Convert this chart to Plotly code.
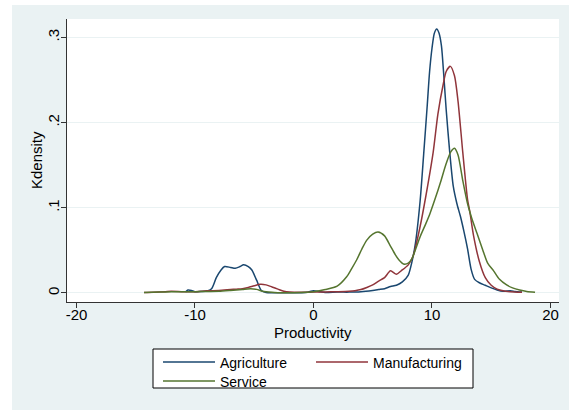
import plotly.graph_objects as go

# Kernel density of log productivity by sector
agri_x = [-10.8, -10.6, -10.3, -10.0, -9.5, -9.0, -8.6, -8.2, -7.8, -7.5, -7.0, -6.6,
          -6.2, -5.9, -5.5, -5.2, -4.8, -4.4, -4.0, -3.0, -2.0, -1.0, -0.5, 0.0, 0.5,
          1.0, 2.0, 3.0, 4.0, 5.0, 5.5, 6.0, 6.5, 7.0, 7.5, 8.0, 8.3, 8.6, 9.0, 9.3,
          9.6, 9.8, 10.0, 10.2, 10.4, 10.6, 10.8, 11.0, 11.2, 11.5, 11.8, 12.1, 12.4,
          12.7, 13.0, 13.3, 13.6, 14.0, 14.5, 15.0, 15.5, 16.0, 16.6, 17.0, 17.6]
agri_y = [0.001, 0.0035, 0.003, 0.0015, 0.0018, 0.0023, 0.005, 0.018, 0.027, 0.031,
          0.030, 0.029, 0.031, 0.033, 0.031, 0.027, 0.015, 0.003, 0.0005, 0.0003,
          0.0003, 0.0003, 0.0008, 0.0027, 0.0015, 0.0005, 0.001, 0.001, 0.0015, 0.003,
          0.004, 0.005, 0.0075, 0.009, 0.013, 0.021, 0.036, 0.058, 0.108, 0.163, 0.22,
          0.26, 0.287, 0.305, 0.31, 0.305, 0.29, 0.255, 0.215, 0.165, 0.125, 0.105,
          0.09, 0.072, 0.052, 0.028, 0.016, 0.012, 0.009, 0.006, 0.0035, 0.002, 0.0025,
          0.0018, 0.001]

manu_x = [-14.3, -13.5, -12.5, -12.0, -11.0, -10.0, -9.0, -8.0, -7.0, -6.5, -6.0, -5.5,
          -5.0, -4.5, -4.0, -3.5, -3.0, -2.5, -2.0, -1.0, 0.0, 1.0, 2.0, 3.0, 3.5, 4.0,
          4.5, 5.0, 5.5, 6.0, 6.5, 7.0, 7.4, 8.0, 8.4, 9.0, 9.5, 10.1, 10.5, 10.95,
          11.2, 11.55, 11.9, 12.2, 12.6, 13.0, 13.2, 13.5, 14.0, 14.5, 15.0, 15.5,
          16.0, 16.6, 17.6]
manu_y = [0.0005, 0.0008, 0.0015, 0.002, 0.0015, 0.0015, 0.0025, 0.003, 0.004, 0.0045,
          0.005, 0.0065, 0.0085, 0.0102, 0.0095, 0.007, 0.0045, 0.002, 0.001, 0.0007,
          0.001, 0.0012, 0.0015, 0.002, 0.0027, 0.004, 0.0065, 0.0095, 0.014, 0.018,
          0.026, 0.022, 0.026, 0.033, 0.043, 0.078, 0.115, 0.165, 0.21, 0.245, 0.26,
          0.266, 0.255, 0.225, 0.165, 0.11, 0.095, 0.068, 0.037, 0.018, 0.009, 0.0045,
          0.0025, 0.0015, 0.0008]

serv_x = [-14.3, -13.0, -12.0, -11.0, -10.0, -9.0, -8.0, -7.0, -6.0, -5.3, -4.8, -4.3,
          -3.5, -3.0, -2.0, -1.0, 0.0, 1.0, 2.0, 2.8, 3.2, 3.65, 4.1, 4.5, 5.0, 5.45,
          6.0, 6.46, 6.9, 7.2, 7.6, 8.0, 8.3, 9.0, 9.5, 9.85, 10.3, 10.7, 11.2, 11.6,
          11.9, 12.2, 12.6, 13.0, 13.35, 13.8, 14.3, 14.7, 15.2, 15.7, 16.3, 16.8,
          17.4, 18.0, 18.7]
serv_y = [0.0005, 0.001, 0.0013, 0.0013, 0.0015, 0.0018, 0.002, 0.003, 0.0042, 0.005,
          0.0042, 0.002, 0.0007, 0.0004, 0.0004, 0.0006, 0.0015, 0.004, 0.008, 0.019,
          0.028, 0.039, 0.052, 0.062, 0.069, 0.0715, 0.067, 0.056, 0.045, 0.039, 0.034,
          0.035, 0.040, 0.066, 0.082, 0.094, 0.112, 0.129, 0.152, 0.166, 0.170, 0.162,
          0.132, 0.105, 0.088, 0.07, 0.05, 0.035, 0.026, 0.016, 0.0094, 0.006, 0.0035,
          0.0018, 0.0008]

x_ticks = [-20, -10, 0, 10, 20]
x_tick_text = ["-20", "-10", "0", "10", "20"]
y_ticks = [0, 0.1, 0.2, 0.3]
y_tick_text = ["0", ".1", ".2", ".3"]

NAVY = "#1A476F"
MAROON = "#90353B"
FOREST = "#55752F"
BG = "#EAF2F3"
FONT = "Liberation Sans, Arial, sans-serif"

fig = go.Figure()
fig.add_trace(go.Scatter(x=agri_x, y=agri_y, mode="lines", name="Agriculture",
                         line=dict(color=NAVY, width=1.5, shape="spline", smoothing=0.7),
                         legend="legend"))
fig.add_trace(go.Scatter(x=manu_x, y=manu_y, mode="lines", name="Manufacturing",
                         line=dict(color=MAROON, width=1.5, shape="spline", smoothing=0.7),
                         legend="legend"))
fig.add_trace(go.Scatter(x=serv_x, y=serv_y, mode="lines", name="Service",
                         line=dict(color=FOREST, width=1.5, shape="spline", smoothing=0.7),
                         legend="legend2"))

W, H = 569, 410
L, R, T, B = 67, 10, 19, 108
pw, ph = W - L - R, H - T - B


def px_x(p):
    return (p - L) / pw


def px_y(p):
    return (H - B - p) / ph


legend_common = dict(
    orientation="h", xanchor="left", yanchor="middle",
    bgcolor="rgba(0,0,0,0)", borderwidth=0,
    font=dict(family=FONT, size=14, color="#000"),
    itemwidth=52, entrywidth=86, itemclick=False, itemdoubleclick=False,
)

fig.update_layout(
    width=W, height=H,
    margin=dict(l=L, r=R, t=T, b=B, autoexpand=False),
    paper_bgcolor=BG, plot_bgcolor="white",
    font=dict(family=FONT, size=15, color="#000"),
    showlegend=True,
    legend=dict(x=px_x(158), y=px_y(362.5), **legend_common),
    legend2=dict(x=px_x(158), y=px_y(381.5), **legend_common),
    xaxis=dict(
        range=[-20.8, 20.72], tickmode="array", tickvals=x_ticks, ticktext=x_tick_text,
        showgrid=False, zeroline=False, showline=True, linecolor="#333", linewidth=1,
        ticks="outside", ticklen=5, tickcolor="#333", ticklabelstandoff=-6,
        tickfont=dict(size=15, color="#000"),
    ),
    yaxis=dict(
        range=[-0.0106, 0.3216], tickmode="array", tickvals=y_ticks, ticktext=y_tick_text,
        tickangle=-90, showgrid=True, gridcolor=BG, gridwidth=1, zeroline=False,
        showline=True, linecolor="#333", linewidth=1,
        ticks="outside", ticklen=5, tickcolor="#333", ticklabelstandoff=-4,
        tickfont=dict(size=15, color="#000"),
    ),
    shapes=[
        # white strips along the top and left page edges
        dict(type="rect", xref="paper", yref="paper", x0=px_x(0), x1=px_x(W),
             y0=px_y(5), y1=px_y(0), fillcolor="white", line=dict(width=0), layer="above"),
        dict(type="rect", xref="paper", yref="paper", x0=px_x(0), x1=px_x(12),
             y0=px_y(H), y1=px_y(0), fillcolor="white", line=dict(width=0), layer="above"),
        # legend frame
        dict(type="rect", xref="paper", yref="paper", x0=px_x(153), x1=px_x(473),
             y0=px_y(388), y1=px_y(349), fillcolor="white",
             line=dict(color="#000", width=1), layer="above"),
    ],
    annotations=[
        dict(text="Productivity", xref="paper", yref="paper", x=0.5, y=px_y(333),
             xanchor="center", yanchor="middle", showarrow=False,
             font=dict(family=FONT, size=15, color="#000")),
        dict(text="Kdensity", xref="paper", yref="paper", x=px_x(36), y=px_y(160),
             xanchor="center", yanchor="middle", textangle=-90, showarrow=False,
             font=dict(family=FONT, size=15, color="#000")),
    ],
)

fig.write_html("out.html")
